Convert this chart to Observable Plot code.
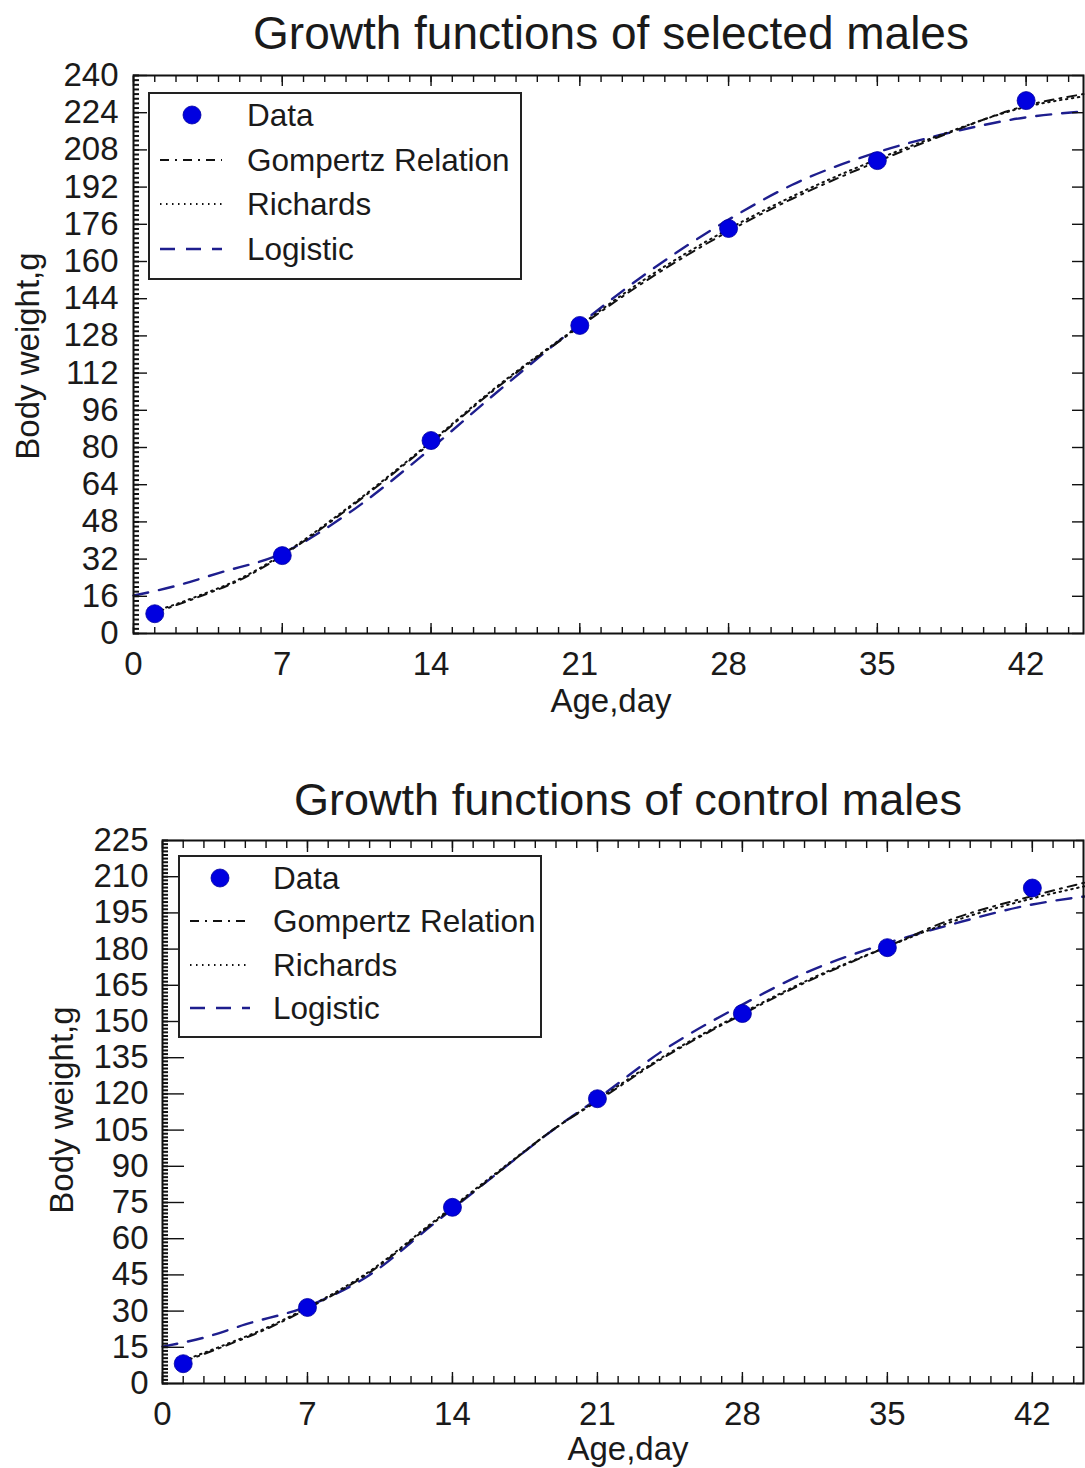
<!DOCTYPE html>
<html>
<head>
<meta charset="utf-8">
<script src="https://cdn.jsdelivr.net/npm/d3@7"></script>
<script src="https://cdn.jsdelivr.net/npm/@observablehq/plot@0.6"></script>
<style>
  html, body { margin: 0; padding: 0; background: #fff; }
  body { width: 1085px; height: 1468px; position: relative; overflow: hidden;
         font-family: "Liberation Sans", Arial, sans-serif; color: #1a1a1a; }
  .abs { position: absolute; white-space: nowrap; line-height: 1; }
  .title { font-size: 46px; transform: translateX(-50%); }
  .xlab { font-size: 33px; transform: translateX(-50%); }
  .ylab { font-size: 33px; transform: translate(-50%, -50%) rotate(-90deg); }
  .legend { position: absolute; border: 2px solid #222; background: #fff; box-sizing: border-box; }
  .legend .row { position: absolute; left: 0; right: 0; height: 40px; }
  .legend .row svg { position: absolute; top: 0; }
  .legend .row span { position: absolute; font-size: 31.5px; line-height: 40px; top: 0; }
</style>
</head>
<body>
<div id="t1" class="abs title" style="left:611px; top:10px;">Growth functions of selected males</div>
<div id="c1" class="abs" style="left:0; top:60px;"></div>
<div class="abs ylab" style="left:27px; top:356px;">Body weight,g</div>
<div class="abs xlab" style="left:611px; top:684px;">Age,day</div>
<div id="l1" class="legend" style="left:148px; top:92px; width:374px; height:188px;"></div>

<div id="t2" class="abs title" style="left:628px; top:777px; font-size:45px;">Growth functions of control males</div>
<div id="c2" class="abs" style="left:0; top:825px;"></div>
<div class="abs ylab" style="left:61px; top:1110px;">Body weight,g</div>
<div class="abs xlab" style="left:628px; top:1432px;">Age,day</div>
<div id="l2" class="legend" style="left:178px; top:855px; width:364px; height:183px;"></div>

<script>
// ---------- data ----------
const xTickLabels = [0, 7, 14, 21, 28, 35, 42];

// Selected males
const selYTicks = [0, 16, 32, 48, 64, 80, 96, 112, 128, 144, 160, 176, 192, 208, 224, 240];
const selDays   = [1, 7, 14, 21, 28, 35, 42];
const selWeight = [8.5, 33.5, 83, 132.5, 174.2, 203.4, 229.2];
const selGompDays = [1, 3, 5, 7, 10, 14, 17, 21, 24, 28, 31, 35, 38, 42, 44.7];
const selGomp     = [9, 15.5, 23, 33.5, 53, 82, 105, 132, 151, 173, 187, 203, 214, 227, 232];
const selRichDays = [1, 3, 5, 7, 10, 14, 17, 21, 24, 28, 31, 35, 38, 42, 44.7];
const selRich     = [9.5, 16, 23.5, 34, 53.5, 82.5, 105.5, 132.5, 152, 174, 188, 204, 214.5, 226.5, 231];
const selLogDays  = [0, 2, 4, 7, 10, 14, 17, 21, 24, 28, 31, 35, 38, 42, 44.7];
const selLog      = [16.3, 20.5, 26, 34.5, 51, 79.6, 103, 133, 154, 178, 193, 207, 214.5, 222, 224.5];

// Control males
const conYTicks = [0, 15, 30, 45, 60, 75, 90, 105, 120, 135, 150, 165, 180, 195, 210, 225];
const conDays   = [1, 7, 14, 21, 28, 35, 42];
const conWeight = [8.2, 31.5, 73, 118, 153.3, 180.6, 205.3];
const conGompDays = [1, 3, 5, 7, 10, 13, 16, 19, 21, 24, 28, 31, 35, 38, 42, 44.5];
const conGomp     = [9, 15.5, 22.5, 31, 46, 66, 86, 106, 117, 134, 153, 166, 181, 192, 202, 207.5];
const conRichDays = [1, 3, 5, 7, 10, 13, 16, 19, 21, 24, 28, 31, 35, 38, 42, 44.5];
const conRich     = [9.5, 16, 23, 31.5, 46.5, 66.5, 86.5, 106, 117.5, 134.5, 153.5, 166.5, 181, 191, 201, 206];
const conLogDays  = [0, 2, 4, 7, 10, 13, 16, 19, 21, 24, 28, 31, 35, 38, 42, 44.5];
const conLog      = [15.3, 19, 24.5, 32, 45, 65.5, 86, 106, 118, 137, 157, 170, 182.5, 190, 198.5, 201.8];

const legendLabels = ["Data", "Gompertz Relation", "Richards", "Logistic"];

// ---------- styles ----------
const DOT = "#0000e0";
const LOGI = "#1e1e8e";
const INK = "#111";
const GOMP_DASH = "9,6,2,6";
const RICH_DASH = "1.5,4.5";
const LOGI_DASH = "15,11";

const pts = (xs, ys) => xs.map((d, i) => ({day: d, w: ys[i]}));

function makeChart(o) {
  const xMinor = d3.range(0, Math.floor(o.xMax) + 1, 1);
  const yMinor = d3.range(0, o.yMax + 0.001, o.yMinorStep);
  const noText = {fill: "none", label: null, stroke: INK, strokeWidth: 1.4};
  return Plot.plot({
    width: 1085,
    height: o.height,
    marginTop: o.marginTop,
    marginBottom: o.marginBottom,
    marginLeft: o.marginLeft,
    marginRight: 2,
    x: {domain: [0, o.xMax]},
    y: {domain: [0, o.yMax]},
    style: {fontFamily: "'Liberation Sans', Arial, sans-serif", fontSize: "33px", color: "#1a1a1a", background: "transparent", overflow: "visible"},
    marks: [
      Plot.line(pts(o.lDays, o.lVals), {x: "day", y: "w", stroke: LOGI, strokeWidth: 2.4, strokeDasharray: LOGI_DASH, curve: "monotone-x"}),
      Plot.line(pts(o.gDays, o.gVals), {x: "day", y: "w", stroke: INK, strokeWidth: 2, strokeDasharray: GOMP_DASH, curve: "monotone-x"}),
      Plot.line(pts(o.rDays, o.rVals), {x: "day", y: "w", stroke: INK, strokeWidth: 2, strokeDasharray: RICH_DASH, curve: "monotone-x"}),
      Plot.dot(pts(o.days, o.weight), {x: "day", y: "w", r: 9, fill: DOT, stroke: "#0000a0", strokeWidth: 0.8}),
      // bottom x axis: labels + inward ticks
      Plot.axisX(xTickLabels, {anchor: "bottom", tickSize: 0, tickPadding: 18, label: null, fontSize: 33, fill: "#1a1a1a"}),
      Plot.axisX(xMinor, {anchor: "bottom", tickSize: -o.xMinorLen, ...noText}),
      Plot.axisX(xTickLabels, {anchor: "bottom", tickSize: -o.xMajorLen, ...noText}),
      // top x ticks
      Plot.axisX(xMinor, {anchor: "top", tickSize: -o.xMinorLen, ...noText}),
      Plot.axisX(xTickLabels, {anchor: "top", tickSize: -o.xMajorLen, ...noText}),
      // left y axis
      Plot.axisY(o.yTicks, {anchor: "left", tickSize: 0, tickPadding: o.yPad, label: null, fontSize: 33, fill: "#1a1a1a"}),
      Plot.axisY(yMinor, {anchor: "left", tickSize: -6, ...noText, strokeWidth: 2}),
      Plot.axisY(o.yTicks, {anchor: "left", tickSize: -o.yMajorLen, ...noText}),
      // right y ticks
      Plot.axisY(o.yTicks, {anchor: "right", tickSize: -o.rightLen, ...noText}),
      Plot.frame({stroke: INK, strokeWidth: 2})
    ]
  });
}

document.getElementById("c1").append(makeChart({
  height: 680, marginTop: 15, marginBottom: 107, marginLeft: 133,
  xMax: 44.7, yMax: 240, yTicks: selYTicks, yMinorStep: 2, yMajorLen: 14, yPad: 15,
  xMinorLen: 6, xMajorLen: 10, rightLen: 12,
  days: selDays, weight: selWeight,
  gDays: selGompDays, gVals: selGomp, rDays: selRichDays, rVals: selRich, lDays: selLogDays, lVals: selLog
}));

document.getElementById("c2").append(makeChart({
  height: 643, marginTop: 15, marginBottom: 85, marginLeft: 162,
  xMax: 44.47, yMax: 225, yTicks: conYTicks, yMinorStep: 1.5, yMajorLen: 22, yPad: 14,
  xMinorLen: 7, xMajorLen: 11, rightLen: 8,
  days: conDays, weight: conWeight,
  gDays: conGompDays, gVals: conGomp, rDays: conRichDays, rVals: conRich, lDays: conLogDays, lVals: conLog
}));

// ---------- legends ----------
function buildLegend(el, o) {
  const ns = "http://www.w3.org/2000/svg";
  legendLabels.forEach((lab, i) => {
    const row = document.createElement("div");
    row.className = "row";
    row.style.top = (o.firstRow + i * o.rowStep - 20) + "px";
    const svg = document.createElementNS(ns, "svg");
    svg.setAttribute("width", 80); svg.setAttribute("height", 40);
    svg.style.left = o.swatchX + "px";
    if (i === 0) {
      const c = document.createElementNS(ns, "circle");
      c.setAttribute("cx", o.dotX - o.swatchX); c.setAttribute("cy", 20); c.setAttribute("r", 9);
      c.setAttribute("fill", DOT); c.setAttribute("stroke", "#0000a0"); c.setAttribute("stroke-width", 0.8);
      svg.append(c);
    } else {
      const l = document.createElementNS(ns, "line");
      l.setAttribute("x1", 0); l.setAttribute("x2", o.swatchW); l.setAttribute("y1", 20); l.setAttribute("y2", 20);
      l.setAttribute("stroke-width", i === 3 ? 2.4 : 2);
      l.setAttribute("stroke", i === 3 ? LOGI : INK);
      l.setAttribute("stroke-dasharray", i === 1 ? GOMP_DASH : i === 2 ? RICH_DASH : LOGI_DASH);
      svg.append(l);
    }
    const sp = document.createElement("span");
    sp.textContent = lab;
    sp.style.left = o.textX + "px";
    row.append(svg, sp);
    el.append(row);
  });
}
buildLegend(document.getElementById("l1"), {firstRow: 21, rowStep: 44.7, swatchX: 10, swatchW: 62, dotX: 42, textX: 97});
buildLegend(document.getElementById("l2"), {firstRow: 21, rowStep: 43.3, swatchX: 10, swatchW: 60, dotX: 40, textX: 93, });
</script>
</body>
</html>
